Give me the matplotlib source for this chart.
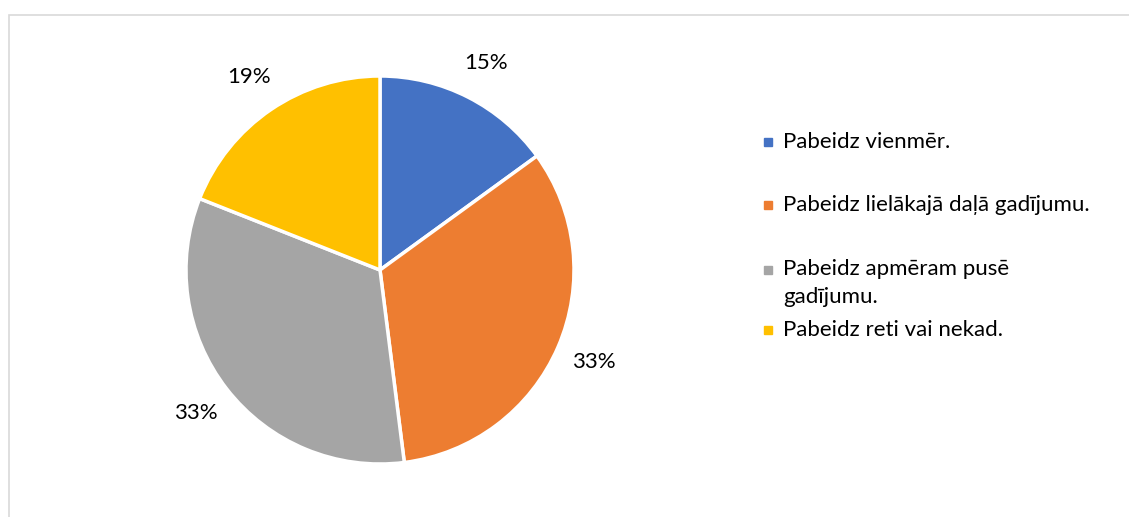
import matplotlib.pyplot as plt
from matplotlib.patches import Rectangle

labels = ['Pabeidz vienmēr.', 'Pabeidz lielākajā daļā gadījumu.',
          'Pabeidz apmēram pusē\ngadījumu.', 'Pabeidz reti vai nekad.']
values = [15, 33, 33, 19]
colors = ['#4472C4', '#ED7D31', '#A5A5A5', '#FFC000']

# legend rows (figure pixels from top), spaced like the original
legend_y = [142, 205, 283, 330]

W, H = 1129, 517
plt.rcParams['font.family'] = ['Lato', 'DejaVu Sans']

fig = plt.figure(figsize=(W / 100, H / 100), dpi=100)

# light frame, open to the right and bottom
fig.patches.append(Rectangle((8.5 / W, -0.1), 1.2, (H - 14.5) / H + 0.1,
                             transform=fig.transFigure, fill=False,
                             edgecolor='#D9D9D9', linewidth=1.2))

cx, cy, r = 380, 270, 194
ax = fig.add_axes([(cx - r) / W, (H - cy - r) / H, 2 * r / W, 2 * r / H])
wedges, texts, autotexts = ax.pie(
    values, colors=colors, startangle=90, counterclock=False,
    autopct='%1.0f%%', pctdistance=1.2,
    wedgeprops=dict(edgecolor='white', linewidth=2.5),
    textprops=dict(fontsize=16, color='black'))
ax.set_xlim(-1, 1)
ax.set_ylim(-1, 1)
ax.set_aspect('equal')
for t in autotexts:
    t.set_clip_on(False)

for lab, col, y in zip(labels, colors, legend_y):
    first_line = y - 13 if '\n' in lab else y
    fig.patches.append(Rectangle((764 / W, 1 - (first_line + 4) / H), 8 / W, 8 / H,
                                 transform=fig.transFigure, color=col))
    fig.text(783 / W, 1 - y / H, lab, fontsize=16, va='center', ha='left',
             linespacing=1.45)

plt.savefig('out.png', dpi=100)
plt.close()
